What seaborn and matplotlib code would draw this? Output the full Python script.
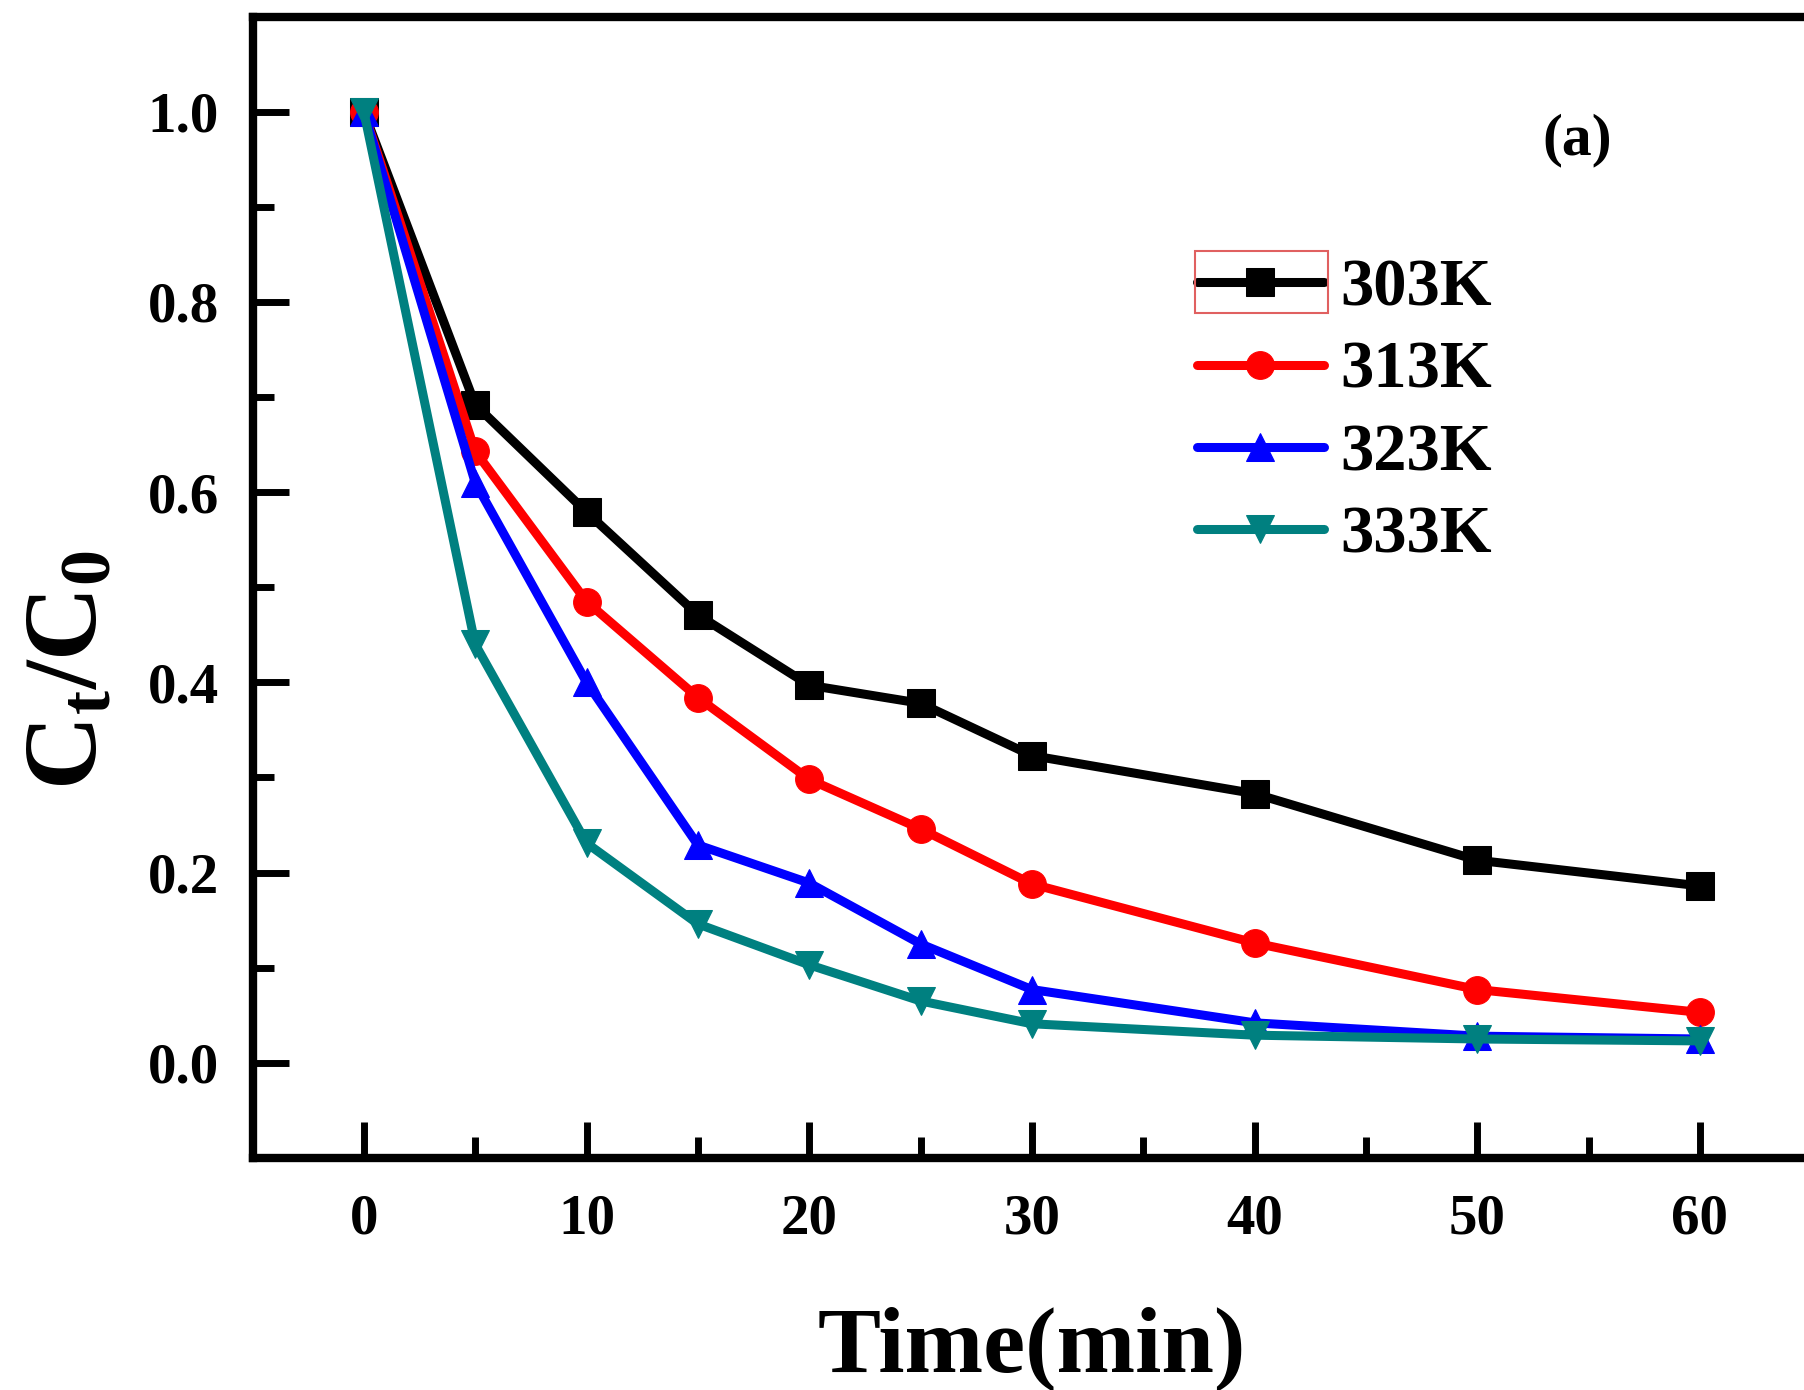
import numpy as np
import pandas as pd
import matplotlib
matplotlib.use("Agg")
import matplotlib.pyplot as plt
from matplotlib.patches import Rectangle
from matplotlib.ticker import MultipleLocator
import seaborn as sns

# Data
time_min = [0, 5, 10, 15, 20, 25, 30, 40, 50, 60]
c_303 = [1.0, 0.692, 0.579, 0.471, 0.397, 0.378, 0.323, 0.283, 0.213, 0.186]
c_313 = [1.0, 0.643, 0.485, 0.384, 0.298, 0.246, 0.188, 0.126, 0.077, 0.053]
c_323 = [1.0, 0.610, 0.400, 0.229, 0.189, 0.125, 0.077, 0.042, 0.028, 0.025]
c_333 = [1.0, 0.440, 0.231, 0.146, 0.103, 0.065, 0.041, 0.029, 0.025, 0.023]
labels = ["303K", "313K", "323K", "333K"]

sns.set_style("ticks")
plt.rcParams['font.family'] = ['Liberation Serif', 'DejaVu Serif']
plt.rcParams['font.weight'] = 'bold'
plt.rcParams['mathtext.fontset'] = 'custom'
plt.rcParams['mathtext.rm'] = 'Liberation Serif:bold'
plt.rcParams['mathtext.bf'] = 'Liberation Serif:bold'
plt.rcParams['mathtext.it'] = 'Liberation Serif:bold'
for k in ['text.color', 'axes.labelcolor', 'xtick.color', 'ytick.color', 'axes.edgecolor']:
    plt.rcParams[k] = 'black'

df = pd.DataFrame({
    'time': time_min * 4,
    'ratio': c_303 + c_313 + c_323 + c_333,
    'temp': np.repeat(labels, len(time_min)),
})

colors = {"303K": "black", "313K": "#ff0000", "323K": "#0000ff", "333K": "#008080"}
markers = {"303K": "s", "313K": "o", "323K": "^", "333K": "v"}

fig = plt.figure(figsize=(18.04, 13.9), dpi=100)
ax = fig.add_axes([0.140, 0.167, 0.864, 0.821])

for lab in labels:
    sub = df[df['temp'] == lab]
    sns.lineplot(data=sub, x='time', y='ratio', ax=ax, color=colors[lab],
                 marker=markers[lab], markersize=20, markeredgecolor=colors[lab],
                 linewidth=6.5, label=lab)

ax.set_xlim(-5, 65)
ax.set_ylim(-0.1, 1.1)
ax.xaxis.set_major_locator(MultipleLocator(10))
ax.xaxis.set_minor_locator(MultipleLocator(5))
ax.yaxis.set_major_locator(MultipleLocator(0.2))
ax.yaxis.set_minor_locator(MultipleLocator(0.1))
ax.tick_params(which='both', direction='in', width=5, labelsize=41)
ax.tick_params(which='major', length=26)
ax.tick_params(which='minor', length=15)
ax.tick_params(axis='x', which='major', pad=26)
ax.tick_params(axis='y', which='major', pad=24)
for lbl in ax.get_xticklabels() + ax.get_yticklabels():
    lbl.set_fontweight('bold')
for s in ax.spines.values():
    s.set_linewidth(6)

ax.set_xlabel('Time(min)', fontsize=68, fontweight='bold')
ax.set_ylabel(r'$\mathbf{C_t/C_0}$', fontsize=74)
ax.xaxis.set_label_coords(0.5, -0.13)
ax.yaxis.set_label_coords(-0.086, 0.428)

ax.text(0.85, 0.892, '(a)', transform=ax.transAxes, fontsize=43,
        fontweight='bold', ha='center', va='center')

leg = ax.legend(loc='upper left', bbox_to_anchor=(0.606, 0.788), frameon=False,
                fontsize=48, handlelength=1.9, handletextpad=0.25,
                labelspacing=0.32, borderpad=0, borderaxespad=0)
for t in leg.get_texts():
    t.set_fontweight('bold')

# thin selection box around first legend handle
fig.canvas.draw()
r = fig.canvas.get_renderer()
bb = leg.legend_handles[0].get_window_extent(r)
W, H = fig.get_size_inches() * fig.dpi
cy = (bb.y0 + bb.y1) / 2
x0 = bb.x0 + 12
x1 = bb.x1 - 10
box = Rectangle((x0 / W, (cy - 31) / H), (x1 - x0) / W, 62 / H,
                transform=fig.transFigure, fill=False, edgecolor='#e06060',
                linewidth=1.5)
fig.patches.append(box)

fig.savefig('out.png', dpi=100, facecolor='white')
